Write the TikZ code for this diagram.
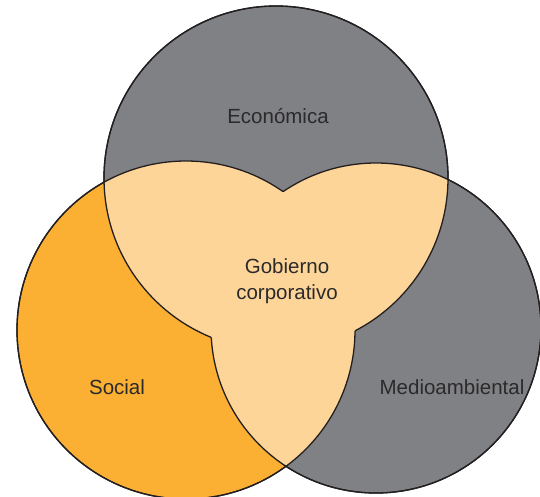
\documentclass[tikz,border=0pt]{standalone}
\usepackage{fontspec}
\setmainfont{Liberation Sans}
\usepackage{tikz}
\usepackage{xcolor}

\definecolor{ecogray}{HTML}{808185}
\definecolor{socorange}{HTML}{FBB034}
\definecolor{govpeach}{HTML}{FED599}
\definecolor{linedark}{HTML}{231F20}
\definecolor{textdark}{HTML}{2B2A2B}

% circles (picture units are pixels, y downwards)
\def\circT{(276,178) circle (172pt)}
\def\circL{(186,330) circle (169pt)}
\def\circR{(376,328) circle (165pt)}

\begin{document}
\begin{tikzpicture}[
            x=1pt, y=-1pt,
            every node/.style={font=\fontsize{20.5}{26}\selectfont, text=textdark, align=center},
            outline/.style={draw=linedark, line width=1.3pt}
          ]
          \useasboundingbox (0,0) rectangle (540,496);

          % Circles
          \fill[ecogray] \circT;
          \fill[socorange] \circL;
          \fill[ecogray] \circR;

          % Overlaps
          \begin{scope}
            \clip \circT;
            \fill[govpeach] \circL;
            \fill[govpeach] \circR;
          \end{scope}
          \begin{scope}
            \clip \circL;
            \fill[govpeach] \circR;
          \end{scope}

          % Outlines, hidden inside the overlap of the other two
          \foreach \c/\o in {\circT/\circL, \circT/\circR, \circL/\circT, \circL/\circR, \circR/\circT, \circR/\circL} {
            \begin{scope}[even odd rule]
              \clip (-20,-20) rectangle (560,520) \o;
              \draw[outline] \c;
            \end{scope}
          }

          % Labels
          \node (eco) at (278,116) {Económica};
          \node (gob) at (287,281) {Gobierno\\corporativo};
          \node (soc) at (117,387) {Social};
          \node (med) at (452,387) {Medioambiental};

        \end{tikzpicture}
\end{document}
